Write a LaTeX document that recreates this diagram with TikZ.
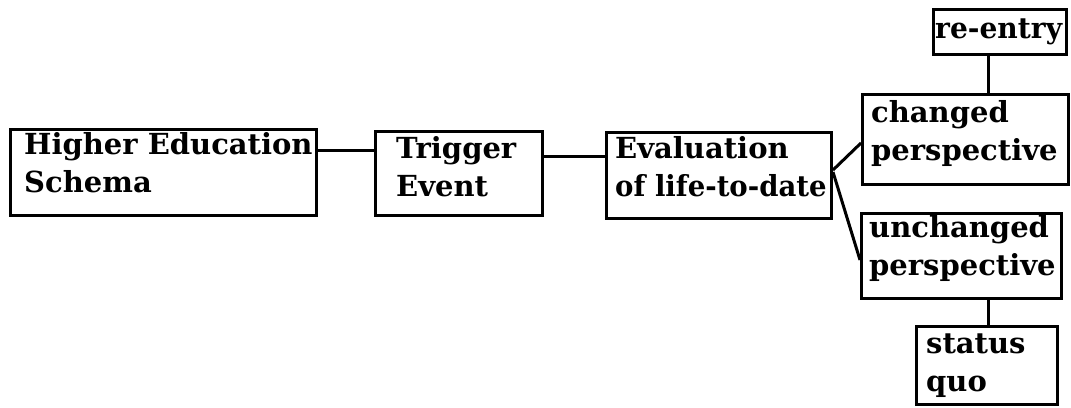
\documentclass[tikz,border=0pt]{standalone}
\usepackage{fontspec}
\usepackage{graphicx}
\setmainfont{DejaVu Serif}
\begin{document}
\begin{tikzpicture}[x=1pt,y=-1pt,
  box/.style={draw, line width=3pt, inner sep=0pt, anchor=north west},
  lbl/.style={inner sep=0pt, anchor=base west, font=\bfseries\fontsize{29}{38}\selectfont},
  link/.style={line width=3pt}]
\useasboundingbox (0,0) rectangle (1071,407);
\fill[white] (0,0) rectangle (1071,407);
% boxes
\node[box, minimum width=306pt, minimum height=86pt] (he) at (9,128) {};
\node[box, minimum width=167pt, minimum height=84pt] (trig) at (374,130) {};
\node[box, minimum width=225pt, minimum height=86pt] (eval) at (605,131) {};
\node[box, minimum width=133pt, minimum height=45pt] (reentry) at (932,8) {};
\node[box, minimum width=206pt, minimum height=90pt] (changed) at (861,93) {};
\node[box, minimum width=200pt, minimum height=85pt] (unchanged) at (860,212) {};
\node[box, minimum width=141pt, minimum height=78pt] (status) at (915,325) {};
% labels
\node[lbl] (heT) at (24,154) {\begin{tabular}[t]{@{}l@{}}Higher Education\\Schema\end{tabular}};
\node[lbl] (trigT) at (396,158) {\begin{tabular}[t]{@{}l@{}}Trigger\\Event\end{tabular}};
\node[lbl] (evalT) at (615,158) {\begin{tabular}[t]{@{}l@{}}Evaluation\\\scalebox{0.95}[1]{of life-to-date}\end{tabular}};
\node[lbl] (reentryT) at (935,38) {\scalebox{0.97}[1]{re-entry}};
\node[lbl] (changedT) at (871,122) {\begin{tabular}[t]{@{}l@{}}changed\\perspective\end{tabular}};
\node[lbl] (unchangedT) at (869,237) {\begin{tabular}[t]{@{}l@{}}unchanged\\perspective\end{tabular}};
\node[lbl] (statusT) at (926,353) {\begin{tabular}[t]{@{}l@{}}status\\quo\end{tabular}};
% connectors
\draw[link] (he.east |- 0,150) -- (trig.west |- 0,150);
\draw[link] (trig.east |- 0,156) -- (eval.west |- 0,156);
\draw[link] (eval.east |- 0,170) -- (changed.west |- 0,143);
\draw[link] (eval.east |- 0,172) -- (unchanged.west |- 0,260);
\draw[link] (reentry.south -| 988,0) -- (changed.north -| 988,0);
\draw[link] (unchanged.south -| 988,0) -- (status.north -| 988,0);
\end{tikzpicture}
\end{document}
